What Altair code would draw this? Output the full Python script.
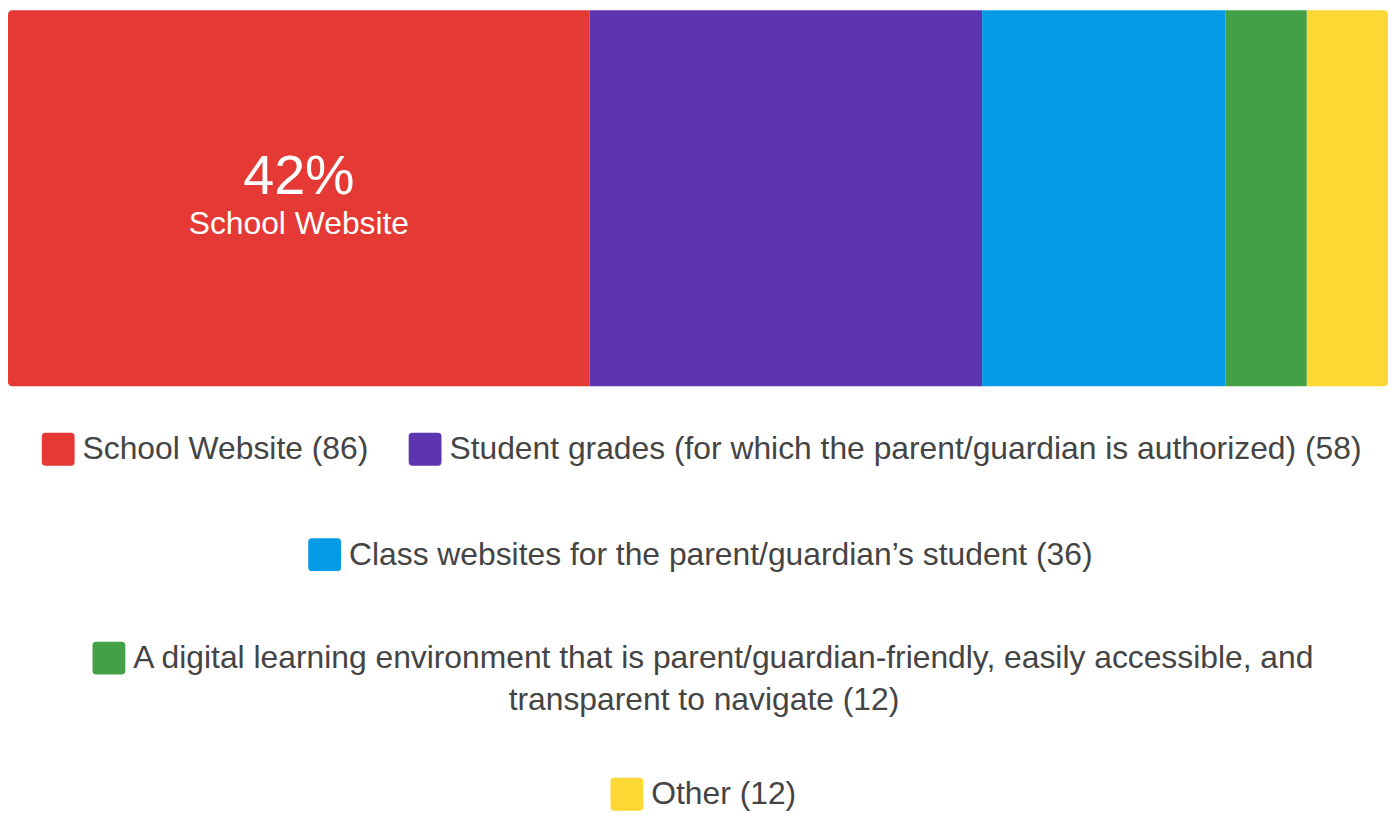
import textwrap
import altair as alt
import pandas as pd

# ---- data ----
categories = [
    "School Website",
    "Student grades (for which the parent/guardian is authorized)",
    "Class websites for the parent/guardian\u2019s student",
    "A digital learning environment that is parent/guardian-friendly, easily accessible, and transparent to navigate",
    "Other",
]
counts = [86, 58, 36, 12, 12]
colors = ["#E53935", "#5E35B1", "#039BE5", "#43A047", "#FDD835"]

# ---- layout (legend placement, relative to the plot's top-left) ----
legend_x = [34, 403, 302, 85, 606]
legend_y = [425, 425, 531, 635, 772]

FONT = "Liberation Sans"
TEXT_COLOR = "#444444"
FS = 32

labels = [f"{c} ({n})" for c, n in zip(categories, counts)]
wrapped = [textwrap.wrap(l, 88) for l in labels]

df = pd.DataFrame({
    "category": categories,
    "count": counts,
    "order": list(range(len(categories))),
    "row": ["all"] * len(categories),
    "legend_label": [w[0] for w in wrapped],
})

base = (
    alt.Chart(df)
    .transform_joinaggregate(total="sum(count)")
    .transform_window(cum_end="sum(count)", sort=[alt.SortField("order")], frame=[None, 0])
    .transform_calculate(
        cum_start="datum.cum_end - datum.count",
        mid="datum.cum_end - datum.count / 2",
        pct="format(datum.count / datum.total, '.0%')",
    )
)

x_enc = alt.X("cum_start:Q", axis=None, scale=alt.Scale(nice=False, zero=True))
y_enc = alt.Y("row:N", axis=None, scale=alt.Scale(paddingInner=0, paddingOuter=0))

layers = []
n = len(categories)
for i in range(n):
    lines = wrapped[i]
    leg = dict(orient="none", legendX=legend_x[i], legendY=legend_y[i])
    if len(lines) > 1:
        leg.update(
            title=" ".join(lines[1:]),
            titleOrient="bottom",
            titleAnchor="middle",
            titleAlign="center",
            titleFont=FONT,
            titleFontSize=FS,
            titleFontWeight="normal",
            titleColor=TEXT_COLOR,
            titlePadding=11,
            titleLimit=3000,
        )
    else:
        leg.update(title=None)
    mark_kw = {}
    if i == 0:
        mark_kw = dict(cornerRadiusTopLeft=4, cornerRadiusBottomLeft=4)
    elif i == n - 1:
        mark_kw = dict(cornerRadiusTopRight=4, cornerRadiusBottomRight=4)
    layer = (
        base.transform_filter(alt.datum.order == i)
        .mark_bar(**mark_kw)
        .encode(
            x=x_enc,
            x2="cum_end:Q",
            y=y_enc,
            color=alt.Color(
                "legend_label:N",
                scale=alt.Scale(domain=[lines[0]], range=[colors[i]]),
                legend=alt.Legend(**leg),
            ),
        )
    )
    layers.append(layer)

top = base.transform_filter(alt.datum.order == 0)
pct_text = top.mark_text(
    font=FONT, fontSize=56, color="white", baseline="alphabetic", dy=-4
).encode(x="mid:Q", y=y_enc, text="pct:N")
name_text = top.mark_text(
    font=FONT, fontSize=FS, color="white", baseline="alphabetic", dy=36
).encode(x="mid:Q", y=y_enc, text="category:N")

rounded_square = (
    "M-0.78,-1 L0.78,-1 Q1,-1 1,-0.78 L1,0.78 Q1,1 0.78,1 L-0.78,1 "
    "Q-1,1 -1,0.78 L-1,-0.78 Q-1,-1 -0.78,-1 Z"
)

chart = (
    alt.layer(*layers, pct_text, name_text)
    .resolve_scale(color="independent")
    .properties(
        width=1388,
        height=378,
        autosize=alt.AutoSizeParams(type="none"),
        padding={"left": 0, "top": 0, "right": 0, "bottom": 427},
    )
    .configure_view(stroke=None)
    .configure_legend(
        padding=0,
        labelFont=FONT,
        labelFontSize=FS,
        labelColor=TEXT_COLOR,
        labelOffset=8,
        labelLimit=3000,
        symbolType=rounded_square,
        symbolSize=1089,
        symbolStrokeWidth=0,
        symbolOpacity=1,
    )
)

chart.save("out.html", embed_options={"renderer": "svg", "actions": False})
